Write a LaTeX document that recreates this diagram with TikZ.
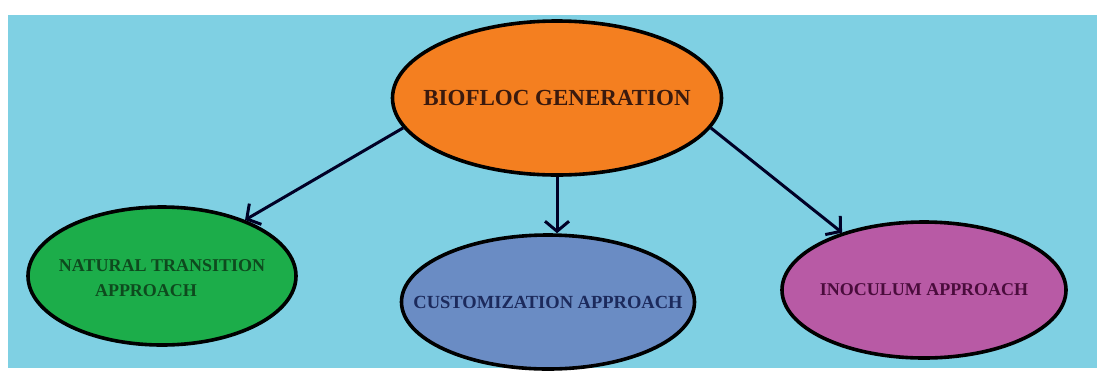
\documentclass[tikz,border=0pt]{standalone}
\usepackage{fontspec}
\setmainfont{Liberation Serif}
\usetikzlibrary{shapes.geometric,arrows.meta}
\definecolor{bgblue}{HTML}{7FD0E3}
\definecolor{orangefill}{HTML}{F47F20}
\definecolor{greenfill}{HTML}{1CAD4A}
\definecolor{bluefill}{HTML}{6A8CC4}
\definecolor{pinkfill}{HTML}{B85AA5}
\definecolor{txtbrown}{HTML}{3A1A0E}
\definecolor{txtgreen}{HTML}{0E4A1E}
\definecolor{txtnavy}{HTML}{1C2A5C}
\definecolor{txtpurple}{HTML}{4A0C3C}
\tikzset{
  blob/.style={ellipse, draw=black, line width=3.6pt, inner sep=0pt},
  lbl/.style={align=center, inner sep=0pt, font=\bfseries\fontsize{18}{25}\selectfont},
  arr/.style={-{Straight Barb[length=10pt,width=24pt,line width=3pt]}, line width=3pt, draw=black!85!blue}
}
\begin{document}
\begin{tikzpicture}[x=1pt,y=-1pt]
\useasboundingbox (0,0) rectangle (1097,376);
\fill[white] (0,0) rectangle (1097,376);
\fill[bgblue] (8,15) rectangle (1097,368);
\node[blob, fill=orangefill, minimum width=329pt, minimum height=154pt,
  label={[lbl, text=txtbrown, font=\bfseries\fontsize{23}{26}\selectfont]center:BIOFLOC GENERATION}] (top) at (557,98) {};
\node[blob, fill=greenfill, minimum width=268pt, minimum height=138pt,
  label={[lbl, text=txtgreen, yshift=-2pt]center:NATURAL TRANSITION\\APPROACH\hspace*{32pt}}] (green) at (162,276) {};
\node[blob, fill=bluefill, minimum width=293pt, minimum height=134pt,
  label={[lbl, text=txtnavy, font=\bfseries\fontsize{18.5}{20}\selectfont]center:CUSTOMIZATION APPROACH}] (blue) at (548,302) {};
\node[blob, fill=pinkfill, minimum width=284pt, minimum height=136pt,
  label={[lbl, text=txtpurple]center:INOCULUM APPROACH}] (pink) at (924,290) {};
\draw[arr] (top.191) -- (green.34);
\draw[arr] (top.south) -- (top.south |- blue.north);
\draw[arr] (top.349) -- (pink.145);
\end{tikzpicture}
\end{document}
